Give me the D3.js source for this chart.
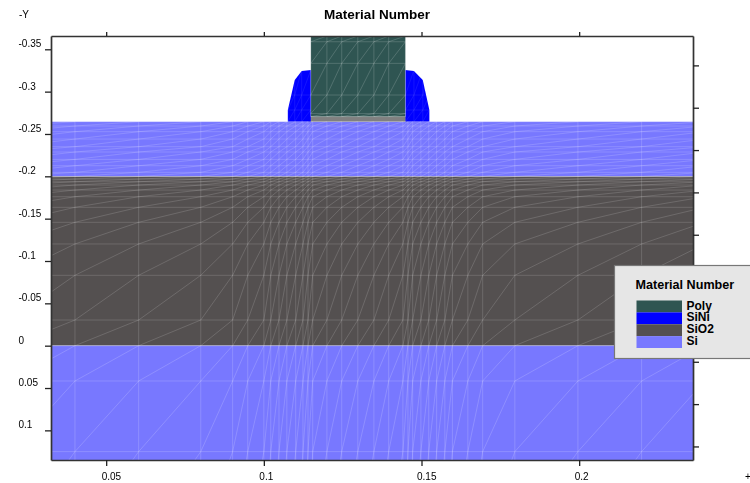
<!DOCTYPE html>
<html>
<head>
<meta charset="utf-8">
<script src="https://cdn.jsdelivr.net/npm/d3@7/dist/d3.min.js"></script>
<style>
  html, body { margin: 0; padding: 0; background: #fff; overflow: hidden; }
  svg { display: block; filter: blur(0.45px); font-family: "Liberation Sans", Arial, sans-serif; }
</style>
</head>
<body>
<div id="chart"></div>
<script>
var chartTitle = "Material Number";
var materials = ["Poly", "SiNi", "SiO2", "Si"];
var materialColors = ["#2f5552", "#0000ff", "#545050", "#7878ff"];

var xTicks = [0.05, 0.1, 0.15, 0.2];
var xTickLabels = ["0.05", "0.1", "0.15", "0.2"];
var yTicks = [-0.35, -0.3, -0.25, -0.2, -0.15, -0.1, -0.05, 0, 0.05, 0.1];
var yTickLabels = ["-0.35", "-0.3", "-0.25", "-0.2", "-0.15", "-0.1", "-0.05", "0", "0.05", "0.1"];
var rightTicks = [-0.331, -0.281, -0.231, -0.181, -0.131, -0.081, -0.031, 0.019, 0.069, 0.119];

// layer boundaries
var xDomain = [0.0325, 0.2361];
var yDomain = [-0.3657, 0.135];
var siTop = -0.2645;
var oxideTop = -0.1998;
var bulkTop = 0;
var polyLeft = 0.1149;
var polyRight = 0.1449;
var gateOxide = [0.1142, 0.1456, -0.2705];

// spacer outlines
var spacerLeft = [[0.1076, -0.2645], [0.1076, -0.2783], [0.1098, -0.3137], [0.112, -0.3243], [0.1149, -0.3255], [0.1149, -0.2645]];
var spacerRight = [[0.1449, -0.2645], [0.1449, -0.3255], [0.1476, -0.3243], [0.1504, -0.3137], [0.1525, -0.2783], [0.1525, -0.2645]];

// mesh lines
var meshX = [0.0198, 0.0401, 0.0603, 0.08, 0.0901, 0.0949, 0.1, 0.1022, 0.1048, 0.1073, 0.1101, 0.1124, 0.114, 0.1155,
  0.12, 0.1247, 0.1298, 0.1349, 0.1396, 0.1441, 0.1457, 0.1472, 0.1498, 0.1523, 0.1548, 0.1574, 0.1598, 0.1647,
  0.1694, 0.1796, 0.1996, 0.2198, 0.2398];
var siRows = [-0.2645, -0.2594, -0.2527, -0.244, -0.235, -0.2287, -0.22, -0.2125, -0.2047, -0.1998];
var oxideRows = [-0.1998, -0.1968, -0.1936, -0.1897, -0.1838, -0.1759, -0.1634, -0.1457, -0.1201, -0.0831, -0.0303, 0];
var bulkRows = [0, 0.0417, 0.1251, 0.2294];
var polyX = [0.1149, 0.12, 0.1247, 0.1298, 0.1349, 0.1396, 0.1449];
var polyRows = [-0.3657, -0.3589, -0.3334, -0.296, -0.2741, -0.2705];
var spacerLeftX = [0.1076, 0.1098, 0.112, 0.1149];
var spacerRows = [-0.3255, -0.296, -0.2783, -0.2645];
var spacerRightX = [0.1449, 0.1476, 0.1504, 0.1525];

var margin = { top: 36, right: 57, bottom: 23, left: 51 };
var width = 750 - margin.left - margin.right;
var height = 483 - margin.top - margin.bottom;

var svg = d3.select("#chart").append("svg")
  .attr("width", 750)
  .attr("height", 483);

var g = svg.append("g")
  .attr("transform", "translate(" + margin.left + "," + margin.top + ")");

var x = d3.scaleLinear().domain(xDomain).range([0, width]);
var y = d3.scaleLinear().domain(yDomain).range([0, height]);

svg.append("clipPath").attr("id", "plot-clip")
  .append("rect").attr("width", width).attr("height", height);

var plot = g.append("g").attr("clip-path", "url(#plot-clip)");

function band(x0, x1, y0, y1, fill) {
  plot.append("rect")
    .attr("x", x(x0))
    .attr("y", y(y0))
    .attr("width", x(x1) - x(x0))
    .attr("height", y(y1) - y(y0))
    .attr("fill", fill);
}

band(xDomain[0], xDomain[1], siTop, oxideTop, materialColors[3]);
band(xDomain[0], xDomain[1], oxideTop, bulkTop, materialColors[2]);
band(xDomain[0], xDomain[1], bulkTop, yDomain[1], materialColors[3]);
band(gateOxide[0], gateOxide[1], gateOxide[2], siTop, "#808080");
band(polyLeft, polyRight, yDomain[0], gateOxide[2], materialColors[0]);

var outline = d3.line()
  .x(function (d) { return x(d[0]); })
  .y(function (d) { return y(d[1]); });

[spacerLeft, spacerRight].forEach(function (s) {
  plot.append("path")
    .attr("d", outline(s) + "Z")
    .attr("fill", materialColors[1]);
});

// verticals, horizontals and one rising diagonal per cell
function meshPath(xs, rows) {
  var d = "";
  var x0 = x(xs[0]), x1 = x(xs[xs.length - 1]);
  var y0 = y(rows[0]), y1 = y(rows[rows.length - 1]);
  xs.forEach(function (v) {
    d += "M" + x(v) + "," + y0 + "V" + y1;
  });
  rows.forEach(function (r) {
    d += "M" + x0 + "," + y(r) + "H" + x1;
  });
  for (var i = 0; i < xs.length - 1; i++) {
    for (var j = 0; j < rows.length - 1; j++) {
      d += "M" + x(xs[i]) + "," + y(rows[j + 1]) + "L" + x(xs[i + 1]) + "," + y(rows[j]);
    }
  }
  return d;
}

[[meshX, siRows, 0.16], [meshX, oxideRows, 0.15], [meshX, bulkRows, 0.17], [polyX, polyRows, 0.17],
 [spacerLeftX, spacerRows, 0.08], [spacerRightX, spacerRows, 0.08]].forEach(function (m) {
  plot.append("path")
    .attr("d", meshPath(m[0], m[1]))
    .attr("fill", "none")
    .attr("stroke", "#fff")
    .attr("stroke-opacity", m[2])
    .attr("stroke-width", 1);
});

// axes
function styleAxis(sel) {
  sel.select(".domain").attr("stroke", "#333").attr("stroke-width", 1.7);
  sel.selectAll(".tick line").attr("stroke", "#222").attr("stroke-width", 1.3);
  sel.selectAll("text").attr("fill", "#000").style("font-size", "10px");
}

var labelOf = function (ticks, labels) {
  return function (d) { return labels[ticks.indexOf(d)]; };
};

var leftAxis = g.append("g")
  .call(d3.axisLeft(y).tickValues(yTicks).tickSize(6).tickSizeOuter(0)
    .tickFormat(labelOf(yTicks, yTickLabels)))
  .call(styleAxis);
leftAxis.selectAll("text")
  .attr("text-anchor", "start")
  .attr("x", -32.5)
  .attr("dy", "-2.5");

var bottomAxis = g.append("g")
  .attr("transform", "translate(0," + height + ")")
  .call(d3.axisBottom(x).tickValues(xTicks).tickSize(6).tickSizeOuter(0)
    .tickFormat(labelOf(xTicks, xTickLabels)))
  .call(styleAxis);
bottomAxis.selectAll("text")
  .attr("text-anchor", "start")
  .attr("x", -5)
  .attr("y", 20)
  .attr("dy", "0");

g.append("g")
  .call(d3.axisTop(x).tickValues(xTicks).tickSize(4).tickSizeOuter(0).tickFormat(""))
  .call(styleAxis);

g.append("g")
  .attr("transform", "translate(" + width + ",0)")
  .call(d3.axisRight(y).tickValues(rightTicks).tickSize(6).tickSizeOuter(0).tickFormat(""))
  .call(styleAxis);

svg.append("text")
  .attr("x", 377)
  .attr("y", 19)
  .attr("text-anchor", "middle")
  .attr("fill", "#000")
  .style("font-size", "13.5px")
  .style("font-weight", "bold")
  .text(chartTitle);

svg.append("text").attr("x", 19).attr("y", 18).attr("fill", "#000").style("font-size", "10px").text("-Y");
svg.append("text").attr("x", 745).attr("y", 480).attr("fill", "#000").style("font-size", "10px").text("+X");

// legend
var legend = svg.append("g").attr("transform", "translate(614.5,265.5)");

legend.append("rect")
  .attr("width", 150)
  .attr("height", 93)
  .attr("fill", "#e6e6e6")
  .attr("stroke", "#777")
  .attr("stroke-width", 1.2);

legend.append("text")
  .attr("x", 21)
  .attr("y", 23)
  .attr("fill", "#000")
  .style("font-size", "12.6px")
  .style("font-weight", "bold")
  .text(chartTitle);

var legendRow = d3.scaleBand().domain(materials).range([35, 82.5]);

legend.selectAll("rect.swatch").data(materials).enter().append("rect")
  .attr("class", "swatch")
  .attr("x", 22)
  .attr("y", function (d) { return legendRow(d); })
  .attr("width", 45.5)
  .attr("height", legendRow.bandwidth())
  .attr("fill", function (d, i) { return materialColors[i]; });

legend.selectAll("text.entry").data(materials).enter().append("text")
  .attr("class", "entry")
  .attr("x", 72)
  .attr("y", function (d) { return legendRow(d) + 9; })
  .attr("fill", "#000")
  .style("font-size", "12px")
  .style("font-weight", "bold")
  .text(function (d) { return d; });
</script>
</body>
</html>
